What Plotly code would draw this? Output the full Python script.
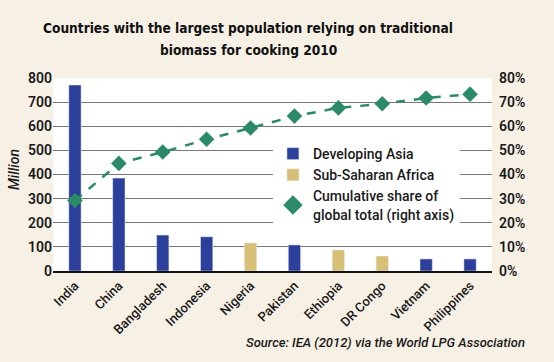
import plotly.graph_objects as go

countries = ["India", "China", "Bangladesh", "Indonesia", "Nigeria", "Pakistan",
             "Ethiopia", "DR Congo", "Vietnam", "Philippines"]
region = ["Asia", "Asia", "Asia", "Asia", "Africa", "Asia", "Africa", "Africa", "Asia", "Asia"]
population = [771, 385, 149, 142, 116, 108, 87, 62, 50, 50]
cumulative_share = [29.2, 44.6, 49.3, 54.6, 59.3, 64.2, 67.6, 69.3, 71.7, 73.3]

BLUE = "#2c3f9b"
GOLD = "#d8bf76"
GREEN = "#2b8a68"
BG = "#f6f0e5"
FONT = "Roboto, sans-serif"
TFONT = "DejaVu Sans Condensed, Roboto, sans-serif"

asia_vals = [v if r == "Asia" else None for v, r in zip(population, region)]
africa_vals = [v if r == "Africa" else None for v, r in zip(population, region)]

fig = go.Figure()
fig.add_trace(go.Bar(x=countries, y=asia_vals, name="Developing Asia",
                     marker_color=BLUE, width=0.28))
fig.add_trace(go.Bar(x=countries, y=africa_vals, name="Sub-Saharan Africa",
                     marker_color=GOLD, width=0.28))
fig.add_trace(go.Scatter(x=countries, y=cumulative_share, yaxis="y2", mode="lines+markers",
                         line=dict(color=GREEN, width=2.5, dash="dash"),
                         marker=dict(symbol="diamond", size=12, color=GREEN),
                         showlegend=False))
fig.add_trace(go.Scatter(x=[None], y=[None], yaxis="y2", mode="markers",
                         name="Cumulative share of<br>global total (right axis)",
                         marker=dict(symbol="diamond", size=15, color=GREEN)))

fig.update_layout(
    width=554, height=362,
    paper_bgcolor=BG, plot_bgcolor="white",
    margin=dict(l=53, r=62, t=78, b=91),
    barmode="overlay",
    font=dict(family=FONT, size=13, color="#1a1a1a", weight=500),
    xaxis=dict(tickangle=-45, showline=True, linecolor="#111", linewidth=2,
               tickfont=dict(size=13), showgrid=False, range=[-0.5, 9.5], automargin=False),
    yaxis=dict(range=[0, 800], dtick=100, showgrid=True, gridcolor="#777", gridwidth=1,
               zeroline=False, tickfont=dict(size=14, weight=600), automargin=False),
    yaxis2=dict(range=[0, 80], dtick=10, overlaying="y", side="right", ticksuffix="%",
                showgrid=False, zeroline=False, tickfont=dict(size=14, weight=600),
                automargin=False, ticks="", ticklabelstandoff=6),
    legend=dict(x=0.501, y=0.689, xanchor="left", yanchor="top", bgcolor="white",
                font=dict(size=14), tracegroupgap=0, itemwidth=30),
)
fig.add_annotation(text="<b>Countries with the largest population relying on traditional</b>",
                   xref="paper", yref="paper", x=(248 - 53) / 439, y=(271 - 28) / 193,
                   xanchor="center", yanchor="middle", showarrow=False,
                   font=dict(family=TFONT, size=13.6, color="#111"))
fig.add_annotation(text="<b>biomass for cooking 2010</b>",
                   xref="paper", yref="paper", x=(248 - 53) / 439, y=(271 - 50) / 193,
                   xanchor="center", yanchor="middle", showarrow=False,
                   font=dict(family=TFONT, size=13.6, color="#111"))
fig.add_annotation(text="<i>Million</i>", textangle=-90,
                   xref="paper", yref="paper", x=(14 - 53) / 439, y=(271 - 170) / 193,
                   xanchor="center", yanchor="middle", showarrow=False, font=dict(size=14))
fig.add_annotation(text="<i>Source: IEA (2012) via the World LPG Association</i>",
                   xref="paper", yref="paper", x=(527 - 53) / 439, y=-(342 - 271) / 193,
                   xanchor="right", yanchor="middle", showarrow=False, font=dict(size=13))

fig.write_html("out.html", config={"displayModeBar": False},
               post_script="document.body.style.margin='0px';")
